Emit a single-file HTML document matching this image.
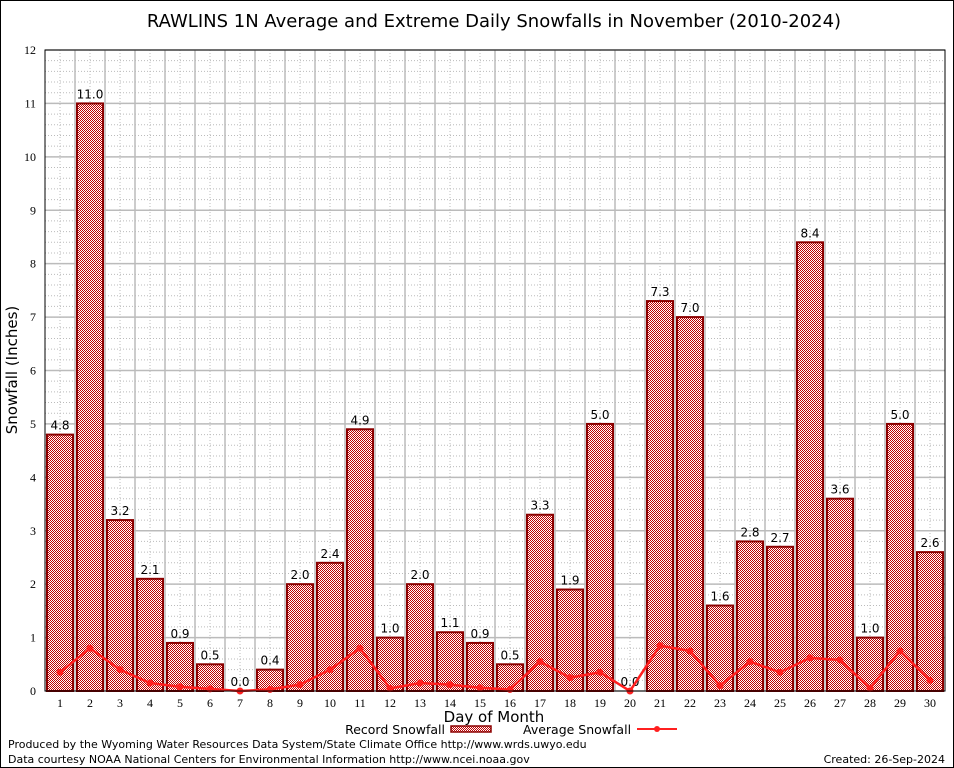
<!DOCTYPE html>
<html><head><meta charset="utf-8"><style>
body{margin:0;background:#fff;}
svg{display:block;font-family:"DejaVu Sans","Liberation Sans",sans-serif;}
</style></head><body>
<svg id="c" width="954" height="768" xmlns="http://www.w3.org/2000/svg">
<defs>
<pattern id="chk" width="2" height="2" patternUnits="userSpaceOnUse">
<rect width="2" height="2" fill="#fff"/>
<rect width="1" height="1" fill="#c00000"/>
<rect x="1" y="1" width="1" height="1" fill="#c00000"/>
</pattern>
</defs>
<rect x="0.5" y="0.5" width="953" height="767" fill="#fff" stroke="#000"/>
<text x="494" y="27" font-size="18" text-anchor="middle">RAWLINS 1N Average and Extreme Daily Snowfalls in November (2010-2024)</text>
<g id="grid"></g>
<g id="bars"></g>
<g id="line"></g>
<g id="axes"></g>
<text x="17" y="370" font-size="15" text-anchor="middle" transform="rotate(-90 17 370)">Snowfall (Inches)</text>
<text x="494" y="722" font-size="15" text-anchor="middle">Day of Month</text>
<g>
<text x="445" y="734" font-size="12.5" text-anchor="end">Record Snowfall</text>
<rect x="451" y="726" width="40" height="6" fill="url(#chk)" stroke="#8b0000" stroke-width="1.5"/>
<text x="523" y="734" font-size="12.5">Average Snowfall</text>
<line x1="637" y1="729" x2="677" y2="729" stroke="#ff2020" stroke-width="2"/>
<circle cx="657" cy="729" r="3" fill="#ff2020"/>
</g>
<text x="8" y="748" font-size="11">Produced by the Wyoming Water Resources Data System/State Climate Office http://www.wrds.uwyo.edu</text>
<text x="8" y="763" font-size="11">Data courtesy NOAA National Centers for Environmental Information http://www.ncei.noaa.gov</text>
<text x="945" y="763" font-size="11" text-anchor="end">Created: 26-Sep-2024</text>
</svg>
<script>
const days=[1,2,3,4,5,6,7,8,9,10,11,12,13,14,15,16,17,18,19,20,21,22,23,24,25,26,27,28,29,30];
const recordValues=[4.8,11.0,3.2,2.1,0.9,0.5,0.0,0.4,2.0,2.4,4.9,1.0,2.0,1.1,0.9,0.5,3.3,1.9,5.0,0.0,7.3,7.0,1.6,2.8,2.7,8.4,3.6,1.0,5.0,2.6];
const averageValues=[0.35,0.8,0.4,0.15,0.08,0.04,0,0.03,0.12,0.4,0.8,0.05,0.15,0.12,0.06,0.03,0.55,0.25,0.35,0,0.85,0.75,0.1,0.55,0.35,0.62,0.58,0.05,0.75,0.2];
const yTicks=[0,1,2,3,4,5,6,7,8,9,10,11,12];
const L=45,R=945,T=50,B=691,yMax=12;
const n=days.length,step=(R-L)/n;
const xc=d=>L+(d-0.5)*step;
const y=v=>B-v/yMax*(B-T);
const NS="http://www.w3.org/2000/svg";
function mk(tag,at,parent){const e=document.createElementNS(NS,tag);for(const k in at)e.setAttribute(k,at[k]);parent.appendChild(e);return e;}
const grid=document.getElementById('grid'),bars=document.getElementById('bars'),line=document.getElementById('line'),axes=document.getElementById('axes');
for(let v=0.2;v<yMax;v+=0.2){const e=mk('line',{x1:L,x2:R,y1:y(v),y2:y(v),stroke:'#bbb','stroke-width':1,'stroke-dasharray':'1,2'},grid);

}
for(let i=0;i<n;i++){const xm=L+(i+0.5)*step;const e=mk('line',{x1:xm,x2:xm,y1:T,y2:B,stroke:'#bbb','stroke-width':1,'stroke-dasharray':'1,2'},grid);

}
yTicks.forEach(v=>{const e=mk('line',{x1:L,x2:R,y1:y(v),y2:y(v),stroke:'#bbb','stroke-width':1.5},grid);


const t=mk('text',{x:L-9,y:y(v)+4,'font-size':12,'text-anchor':'end','font-family':'Liberation Serif,serif'},axes);t.textContent=v;

});
for(let i=1;i<n;i++){const e=mk('line',{x1:L+i*step,x2:L+i*step,y1:T,y2:B,stroke:'#bbb','stroke-width':1.5},grid);

}
days.forEach((d,i)=>{const v=recordValues[i];const bw=26;
const r=mk('rect',{x:xc(d)-bw/2,y:y(v),width:bw,height:B-y(v),fill:'url(#chk)',stroke:'#8b0000','stroke-width':2},bars);


const t=mk('text',{x:xc(d),y:y(v)-5,'font-size':12,'text-anchor':'middle'},bars);t.textContent=v.toFixed(1);


const xl=mk('text',{x:xc(d),y:B+16,'font-size':12,'text-anchor':'middle','font-family':'Liberation Serif,serif'},axes);xl.textContent=d;

});
const pl=mk('polyline',{points:days.map((d,i)=>xc(d)+','+y(averageValues[i])).join(' '),fill:'none',stroke:'#ff2020','stroke-width':2.5},line);


days.forEach((d,i)=>{const c=mk('circle',{cx:xc(d),cy:y(averageValues[i]),r:3.5,fill:'#ff2020'},line);

});
const fr=mk('rect',{x:L,y:T,width:R-L,height:B-T,fill:'none',stroke:'#000','stroke-width':1},axes);


</script>
</body></html>
